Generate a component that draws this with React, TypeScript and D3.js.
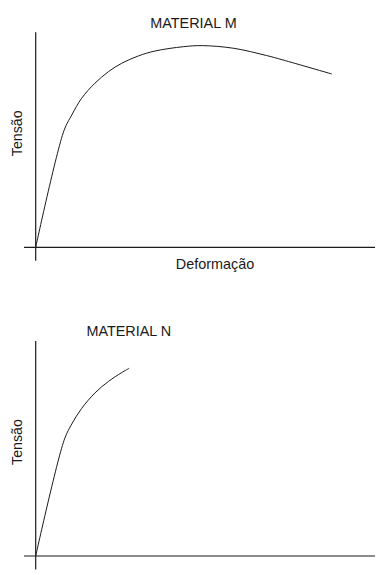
import React from "react";
import * as d3 from "d3";

const strainM = [0, 8.3, 10.6, 13.5, 17.4, 21.4, 25.3, 30.2, 35.1, 43.4, 49.0, 58.1, 67.9, 72.8, 87.1];
const stressM = [0, 54.2, 61.5, 69.3, 76.3, 81.7, 85.6, 89.0, 91.3, 93.3, 93.8, 92.6, 89.2, 87.1, 80.6];
const strainN = [0, 8.3, 10.4, 13.5, 17.4, 21.4, 25.3, 27.5];
const stressN = [0, 53.6, 60.8, 68.6, 75.8, 81.2, 85.3, 87.3];

const titles = ["MATERIAL M", "MATERIAL N"];
const yLabel = "Tensão";
const xLabel = "Deformação";

const FONT = "'Liberation Sans', Arial, sans-serif";
const INK = "#1a1a1a";

function Panel({ top, title, titleX, xs, ys, showX }: any) {
  const x = d3.scaleLinear().domain([0, 100]).range([35.7, 375.7]);
  const y = d3.scaleLinear().domain([0, 100]).range([top, top - 215]);
  const pts = xs.map((v: number, i: number) => [v, ys[i]] as [number, number]);
  const line = d3
    .line<[number, number]>()
    .x((d) => x(d[0]))
    .y((d) => y(d[1]))
    .curve(d3.curveCatmullRom.alpha(0.5));
  const x0 = x(0);
  return (
    <g>
      <text x={titleX} y={top - 219.6} textAnchor="middle" fontFamily={FONT} fontSize={14.4} fill={INK}>
        {title}
      </text>
      <line x1={x0} x2={x0} y1={y(100)} y2={top + 13.5} stroke={INK} strokeWidth={1.2} />
      <line x1={24} x2={375} y1={top} y2={top} stroke={INK} strokeWidth={1.2} />
      <path d={line(pts) || ""} fill="none" stroke={INK} strokeWidth={1} />
      <text
        transform={`translate(22.3,${top - 114}) rotate(-90)`}
        textAnchor="middle"
        fontFamily={FONT}
        fontSize={14.2}
        fill={INK}
      >
        {yLabel}
      </text>
      {showX && (
        <text x={215} y={top + 21.2} textAnchor="middle" fontFamily={FONT} fontSize={14.4} fill={INK}>
          {xLabel}
        </text>
      )}
    </g>
  );
}

export default function App() {
  return (
    <svg
      width={392}
      height={575}
      style={{ position: "absolute", left: 0, top: 0, background: "#fff" }}
    >
      <rect width={392} height={575} fill="#fff" />
      <Panel top={247.3} title={titles[0]} titleX={193.5} xs={strainM} ys={stressM} showX={true} />
      <Panel top={556} title={titles[1]} titleX={128.8} xs={strainN} ys={stressN} showX={false} />
    </svg>
  );
}
